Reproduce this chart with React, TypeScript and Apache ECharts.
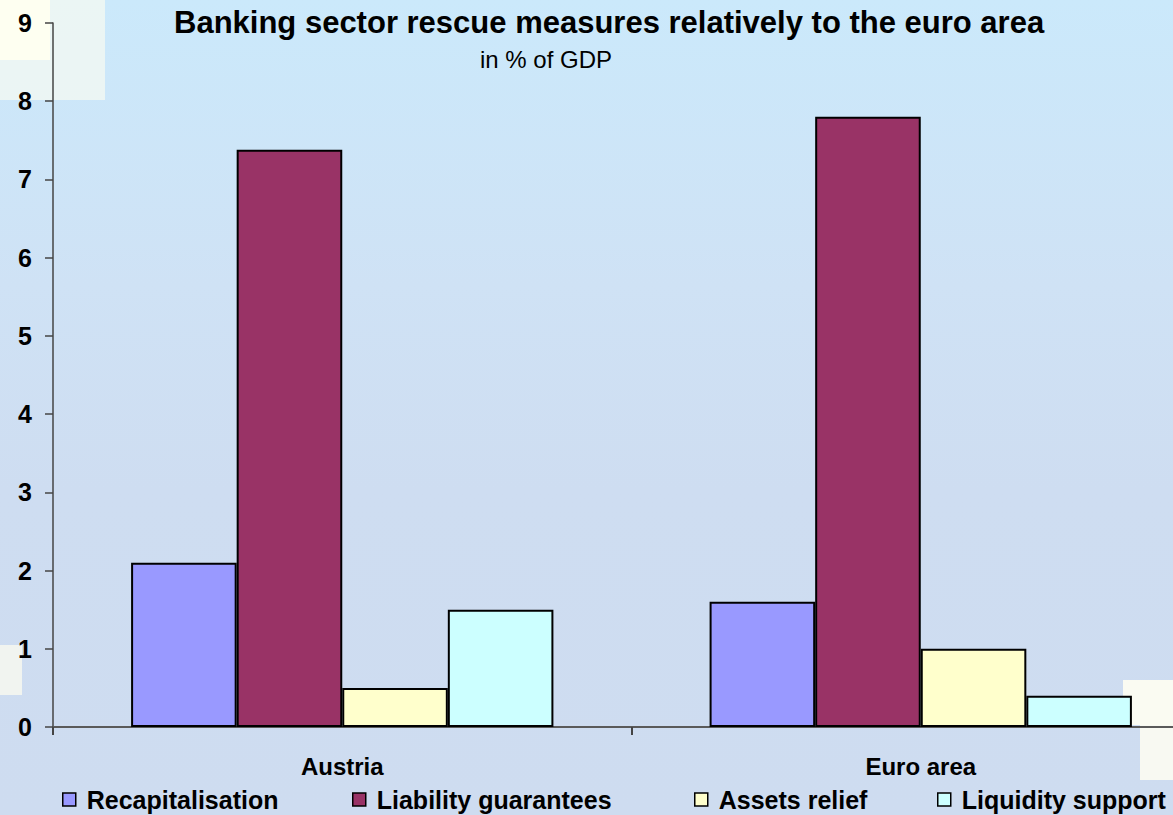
import React, { useEffect, useRef } from 'react';
import * as echarts from 'echarts';

const categories = ['Austria', 'Euro area'];
const seriesNames = ['Recapitalisation', 'Liability guarantees', 'Assets relief', 'Liquidity support'];
const recapitalisation = [2.1, 1.6];
const liabilityGuarantees = [7.38, 7.8];
const assetsRelief = [0.5, 1.0];
const liquiditySupport = [1.5, 0.4];
const seriesValues = [recapitalisation, liabilityGuarantees, assetsRelief, liquiditySupport];
const seriesColors = ['#9999FF', '#993366', '#FFFFCC', '#CCFFFF'];
const titleText = 'Banking sector rescue measures relatively to the euro area';
const subtitleText = 'in % of GDP';

const FONT = 'Arial, "Liberation Sans", sans-serif';

export default function App() {
  const ref = useRef<HTMLDivElement>(null);

  useEffect(() => {
    if (!ref.current) return;
    const chart = echarts.init(ref.current, undefined, { renderer: 'svg' });
    const legendLefts = [62, 352, 694, 937];

    const option: any = {
      animation: false,
      backgroundColor: '#CEDDF1',
      graphic: [
        {
          type: 'rect',
          silent: true,
          z: -10,
          shape: { x: 0, y: 0, width: 1210, height: 815 },
          style: {
            fill: new echarts.graphic.LinearGradient(0, 0, 0, 1, [
              { offset: 0, color: '#CBE9FB' },
              { offset: 0.35, color: '#CFE2F5' },
              { offset: 0.6, color: '#CEDDF1' },
              { offset: 1, color: '#CEDCF0' },
            ]),
          },
        },
        { type: 'rect', silent: true, z: -9, shape: { x: 0, y: 0, width: 105, height: 100 }, style: { fill: '#F6F9F2', opacity: 0.75 } },
        { type: 'rect', silent: true, z: -9, shape: { x: 0, y: 0, width: 50, height: 60 }, style: { fill: '#FFFFF0', opacity: 0.95 } },
        { type: 'rect', silent: true, z: -9, shape: { x: 0, y: 645, width: 22, height: 50 }, style: { fill: '#FAFAF0', opacity: 0.8 } },
        { type: 'rect', silent: true, z: -9, shape: { x: 1123, y: 680, width: 50, height: 45 }, style: { fill: '#FFFEF2', opacity: 0.9 } },
        { type: 'rect', silent: true, z: -9, shape: { x: 1140, y: 725, width: 33, height: 55 }, style: { fill: '#FFFEF2', opacity: 0.85 } },
      ],
      title: [
        {
          text: titleText,
          left: 174,
          top: 7,
          padding: 0,
          textStyle: { fontFamily: FONT, fontSize: 31, fontWeight: 'bold', color: '#000', lineHeight: 31 },
        },
        {
          text: subtitleText,
          left: 480,
          top: 47,
          padding: 0,
          textStyle: { fontFamily: FONT, fontSize: 24, fontWeight: 'normal', color: '#000', lineHeight: 24 },
        },
      ],
      legend: seriesNames.map((name, i) => ({
        data: [name],
        left: legendLefts[i],
        top: 787,
        padding: 0,
        itemWidth: 13,
        itemHeight: 13,
        itemGap: 0,
        icon: 'rect',
        selectedMode: false,
        itemStyle: { borderColor: '#000', borderWidth: 1.5 },
        textStyle: {
          fontFamily: FONT,
          fontSize: 25,
          fontWeight: 'bold',
          color: '#000',
          lineHeight: 25,
          padding: [0, 0, 0, 6],
        },
      })),
      grid: { left: 53, top: 23, right: 0, height: 704, containLabel: false },
      xAxis: {
        type: 'category',
        data: categories,
        axisLine: { show: true, lineStyle: { color: '#5a5a5a', width: 2 } },
        axisTick: { show: true, alignWithLabel: false, length: 8, lineStyle: { color: '#444', width: 2 } },
        axisLabel: {
          margin: 27,
          fontFamily: FONT,
          fontSize: 24,
          fontWeight: 'bold',
          color: '#000',
          lineHeight: 24,
        },
        splitLine: { show: false },
      },
      yAxis: {
        type: 'value',
        min: 0,
        max: 9,
        interval: 1,
        axisLine: { show: true, lineStyle: { color: '#444', width: 1.5 } },
        axisTick: { show: true, length: 8, lineStyle: { color: '#444', width: 1.5 } },
        axisLabel: {
          margin: 21,
          fontFamily: FONT,
          fontSize: 25,
          fontWeight: 'bold',
          color: '#000',
        },
        splitLine: { show: false },
      },
      series: seriesNames.map((name, i) => ({
        name,
        type: 'bar',
        data: seriesValues[i],
        barGap: '0%',
        barCategoryGap: '27%',
        itemStyle: { color: seriesColors[i], borderColor: '#000', borderWidth: 2 },
        emphasis: { disabled: true },
      })),
    };

    chart.setOption(option);
    return () => chart.dispose();
  }, []);

  return (
    <div style={{ position: 'absolute', left: 0, top: 0, width: 1173, height: 815, overflow: 'hidden' }}>
      <div ref={ref} style={{ width: 1210, height: 815 }} />
    </div>
  );
}
